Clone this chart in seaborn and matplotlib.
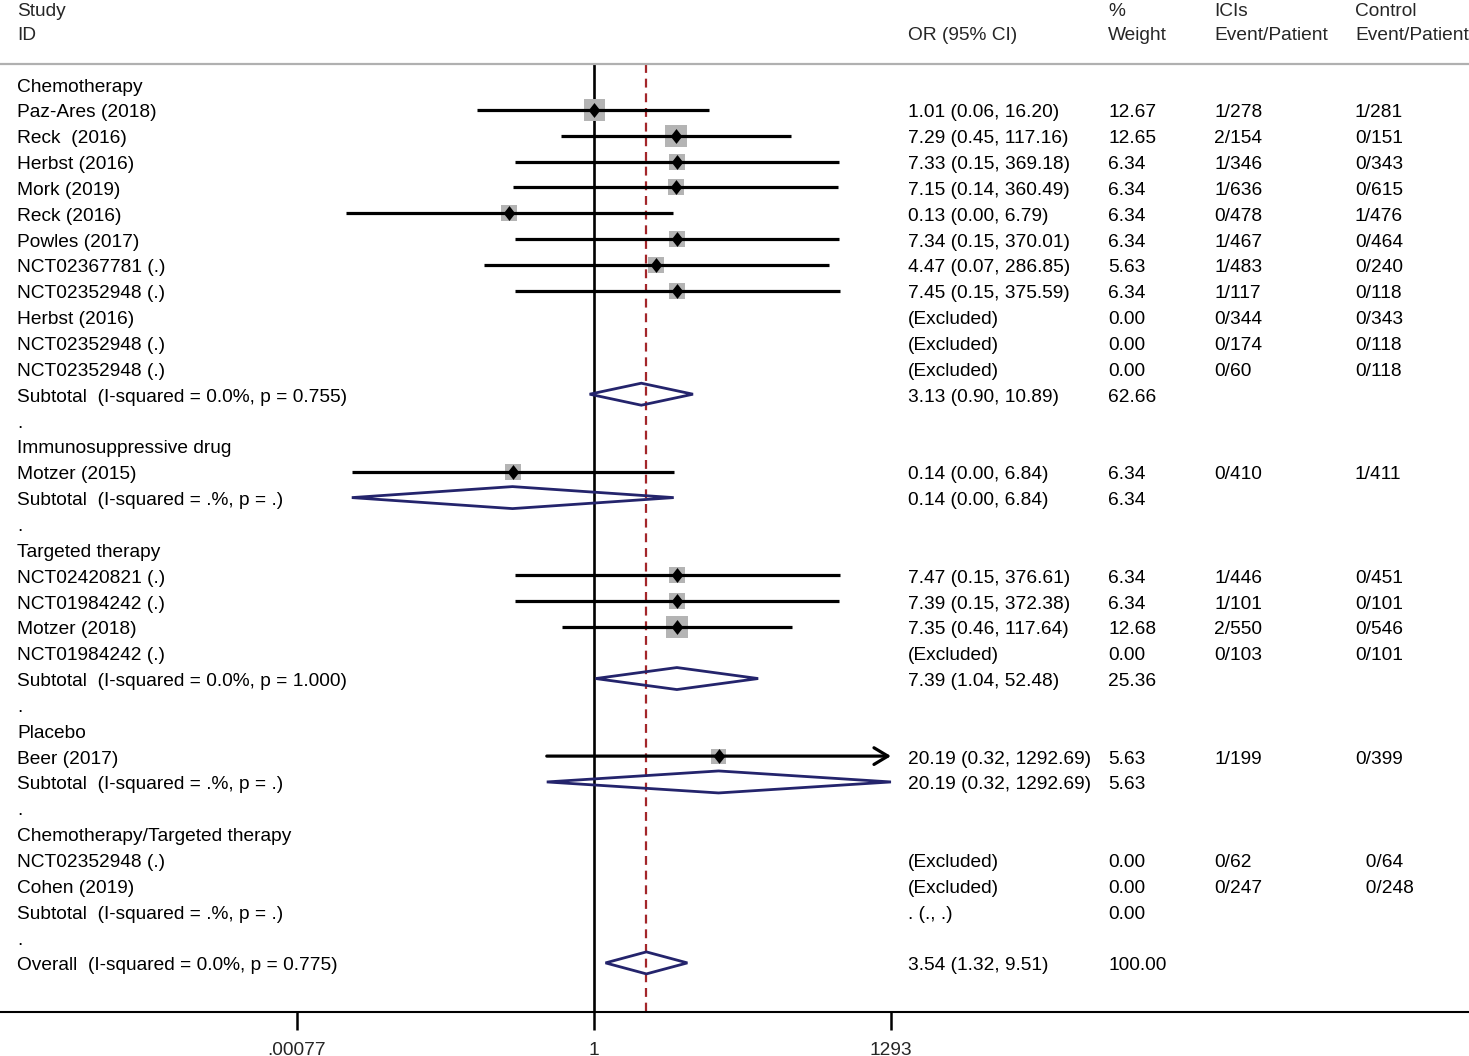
import numpy as np
import pandas as pd
import matplotlib
matplotlib.use("Agg")
import matplotlib.pyplot as plt
import seaborn as sns
from matplotlib.transforms import blended_transform_factory
from matplotlib.patches import Polygon
from matplotlib.path import Path

nan = np.nan

labels = [
    "Chemotherapy", "Paz-Ares (2018)", "Reck  (2016)", "Herbst (2016)", "Mork (2019)",
    "Reck (2016)", "Powles (2017)", "NCT02367781 (.)", "NCT02352948 (.)", "Herbst (2016)",
    "NCT02352948 (.)", "NCT02352948 (.)", "Subtotal  (I-squared = 0.0%, p = 0.755)", ".",
    "Immunosuppressive drug", "Motzer (2015)", "Subtotal  (I-squared = .%, p = .)", ".",
    "Targeted therapy", "NCT02420821 (.)", "NCT01984242 (.)", "Motzer (2018)", "NCT01984242 (.)",
    "Subtotal  (I-squared = 0.0%, p = 1.000)", ".",
    "Placebo", "Beer (2017)", "Subtotal  (I-squared = .%, p = .)", ".",
    "Chemotherapy/Targeted therapy", "NCT02352948 (.)", "Cohen (2019)",
    "Subtotal  (I-squared = .%, p = .)", ".",
    "Overall  (I-squared = 0.0%, p = 0.775)",
]
# g=group header, s=study, x=excluded, t=subtotal, e=empty subtotal, d=spacer, o=overall
kinds = ["g", "s", "s", "s", "s", "s", "s", "s", "s", "x", "x", "x", "t", "d",
         "g", "s", "t", "d",
         "g", "s", "s", "s", "x", "t", "d",
         "g", "s", "t", "d",
         "g", "x", "x", "e", "d",
         "o"]
or_text = [
    "", "1.01 (0.06, 16.20)", "7.29 (0.45, 117.16)", "7.33 (0.15, 369.18)", "7.15 (0.14, 360.49)",
    "0.13 (0.00, 6.79)", "7.34 (0.15, 370.01)", "4.47 (0.07, 286.85)", "7.45 (0.15, 375.59)",
    "(Excluded)", "(Excluded)", "(Excluded)", "3.13 (0.90, 10.89)", "",
    "", "0.14 (0.00, 6.84)", "0.14 (0.00, 6.84)", "",
    "", "7.47 (0.15, 376.61)", "7.39 (0.15, 372.38)", "7.35 (0.46, 117.64)", "(Excluded)",
    "7.39 (1.04, 52.48)", "",
    "", "20.19 (0.32, 1292.69)", "20.19 (0.32, 1292.69)", "",
    "", "(Excluded)", "(Excluded)", ". (., .)", "",
    "3.54 (1.32, 9.51)",
]
weight_text = [
    "", "12.67", "12.65", "6.34", "6.34", "6.34", "6.34", "5.63", "6.34",
    "0.00", "0.00", "0.00", "62.66", "",
    "", "6.34", "6.34", "",
    "", "6.34", "6.34", "12.68", "0.00", "25.36", "",
    "", "5.63", "5.63", "",
    "", "0.00", "0.00", "0.00", "",
    "100.00",
]
ici_text = [
    "", "1/278", "2/154", "1/346", "1/636", "0/478", "1/467", "1/483", "1/117",
    "0/344", "0/174", "0/60", "", "",
    "", "0/410", "", "",
    "", "1/446", "1/101", "2/550", "0/103", "", "",
    "", "1/199", "", "",
    "", "0/62", "0/247", "", "",
    "",
]
ctrl_text = [
    "", "1/281", "0/151", "0/343", "0/615", "1/476", "0/464", "0/240", "0/118",
    "0/343", "0/118", "0/118", "", "",
    "", "1/411", "", "",
    "", "0/451", "0/101", "0/546", "0/101", "", "",
    "", "0/399", "", "",
    "", "  0/64", "  0/248", "", "",
    "",
]
# numeric estimates (lower limits shown as 0.00 are estimated from the picture)
est = [nan, 1.01, 7.29, 7.33, 7.15, 0.13, 7.34, 4.47, 7.45, nan, nan, nan, 3.13, nan,
       nan, 0.14, 0.14, nan,
       nan, 7.47, 7.39, 7.35, nan, 7.39, nan,
       nan, 20.19, 20.19, nan,
       nan, nan, nan, nan, nan,
       3.54]
lo = [nan, 0.06, 0.45, 0.15, 0.14, 0.0025, 0.15, 0.07, 0.15, nan, nan, nan, 0.90, nan,
      nan, 0.0029, 0.0029, nan,
      nan, 0.15, 0.15, 0.46, nan, 1.04, nan,
      nan, 0.32, 0.32, nan,
      nan, nan, nan, nan, nan,
      1.32]
hi = [nan, 16.20, 117.16, 369.18, 360.49, 6.79, 370.01, 286.85, 375.59, nan, nan, nan, 10.89, nan,
      nan, 6.84, 6.84, nan,
      nan, 376.61, 372.38, 117.64, nan, 52.48, nan,
      nan, 1292.69, 1292.69, nan,
      nan, nan, nan, nan, nan,
      9.51]
wt = [nan, 12.67, 12.65, 6.34, 6.34, 6.34, 6.34, 5.63, 6.34, 0, 0, 0, 62.66, nan,
      nan, 6.34, 6.34, nan,
      nan, 6.34, 6.34, 12.68, 0, 25.36, nan,
      nan, 5.63, 5.63, nan,
      nan, 0, 0, 0, nan,
      100.0]

tick_vals = [0.00077, 1, 1293]
tick_labels = [".00077", "1", "1293"]
overall_or = 3.54

header_top = ["Study", "", "%", "ICIs", "Control"]
header_bot = ["ID", "OR (95% CI)", "Weight", "Event/Patient", "Event/Patient"]

# ---------------------------------------------------------------------------
sns.set_theme(style="white")
plt.rcParams["font.family"] = ["Liberation Sans", "DejaVu Sans"]
FS = 13.8

W, H = 1469, 1056
fig = plt.figure(figsize=(W / 100, H / 100), dpi=100)
ax = fig.add_axes([0, 0, 1, 1])

row0_px, row_step = 84.0, 25.85
def py(px):
    return (px - row0_px) / row_step

x1_px, px_per_ln = 594.0, 41.45
ax.set_xscale("log")
ax.set_xlim(np.exp(-x1_px / px_per_ln), np.exp((W - x1_px) / px_per_ln))
ax.set_ylim(py(H), py(0))

df = pd.DataFrame({"label": labels, "kind": kinds, "est": est, "lo": lo, "hi": hi, "wt": wt})
df["row"] = np.arange(len(df))

studies = df[df["kind"] == "s"].copy()
pools = df[df["kind"].isin(["t", "o"]) & df["est"].notna()]

# reference lines
top_y, bot_y = py(64), py(1012)
ax.vlines(1, top_y, bot_y, color="black", lw=1.9, zorder=1)
ax.vlines(overall_or, top_y, bot_y, color="#a3262a", lw=1.6, linestyles=(0, (4, 2.6)), zorder=1)
ax.axhline(top_y, color="#b0b0b0", lw=1.6, zorder=1)

# weight boxes
def box_size(w):
    side_px = 16.0 * (w / 6.34) ** 0.44
    return (side_px * 0.72) ** 2
sizes = {w: box_size(w) for w in studies["wt"].unique()}
sns.scatterplot(data=studies, x="est", y="row", size="wt", sizes=sizes, marker="s",
                color="#b4b4b4", linewidth=0, legend=False, ax=ax, zorder=2)

# CI lines
xmax_axis = tick_vals[-1]
for _, r in studies.iterrows():
    if r["hi"] >= 0.99 * xmax_axis:
        ax.annotate("", xy=(r["hi"], r["row"]), xytext=(r["lo"], r["row"]),
                    arrowprops=dict(arrowstyle="->,head_length=0.5,head_width=0.3",
                                    lw=2.3, color="black", shrinkA=0, shrinkB=0,
                                    mutation_scale=20), zorder=3)
    else:
        ax.hlines(r["row"], r["lo"], r["hi"], color="black", lw=2.3, zorder=3)

# point estimates (slightly tall diamond)
tall_diamond = Path([(0, 1), (0.78, 0), (0, -1), (-0.78, 0), (0, 1)],
                    [Path.MOVETO, Path.LINETO, Path.LINETO, Path.LINETO, Path.CLOSEPOLY])
sns.scatterplot(data=studies, x="est", y="row", marker=tall_diamond, s=115, color="black",
                linewidth=0, legend=False, ax=ax, zorder=4)

# pooled diamonds
half_h = 11.0 / row_step
for _, r in pools.iterrows():
    poly = Polygon([(r["lo"], r["row"]), (r["est"], r["row"] - half_h),
                    (r["hi"], r["row"]), (r["est"], r["row"] + half_h)],
                   closed=True, fill=False, edgecolor="#24246c", lw=2.0, zorder=4)
    ax.add_patch(poly)

# text columns
tr = blended_transform_factory(ax.transAxes, ax.transData)
col_x = [17, 908, 1108, 1214, 1355]
dy = 3.0 / row_step
for i in range(len(labels)):
    vals = [labels[i], or_text[i], weight_text[i], ici_text[i], ctrl_text[i]]
    for cx, v in zip(col_x, vals):
        if v:
            ax.text(cx / W, i + dy, v, transform=tr, fontsize=FS, va="center", ha="left",
                    color="black")
for cx, t1, t2 in zip(col_x, header_top, header_bot):
    if t1:
        ax.text(cx / W, py(8) + dy, t1, transform=tr, fontsize=FS, va="center", ha="left")
    if t2:
        ax.text(cx / W, py(33) + dy, t2, transform=tr, fontsize=FS, va="center", ha="left")

# axis
for s in ["top", "left", "right"]:
    ax.spines[s].set_visible(False)
ax.spines["bottom"].set_position(("data", bot_y))
ax.spines["bottom"].set_color("black")
ax.spines["bottom"].set_linewidth(1.5)
ax.set_xticks(tick_vals)
ax.set_xticklabels(tick_labels)
ax.minorticks_off()
ax.tick_params(axis="x", which="major", direction="out", length=13, width=1.8,
               pad=8.5, labelsize=FS, color="black", bottom=True)
ax.set_yticks([])
ax.set_xlabel("")
ax.set_ylabel("")
ax.grid(False)

fig.savefig("out.png", dpi=100)
